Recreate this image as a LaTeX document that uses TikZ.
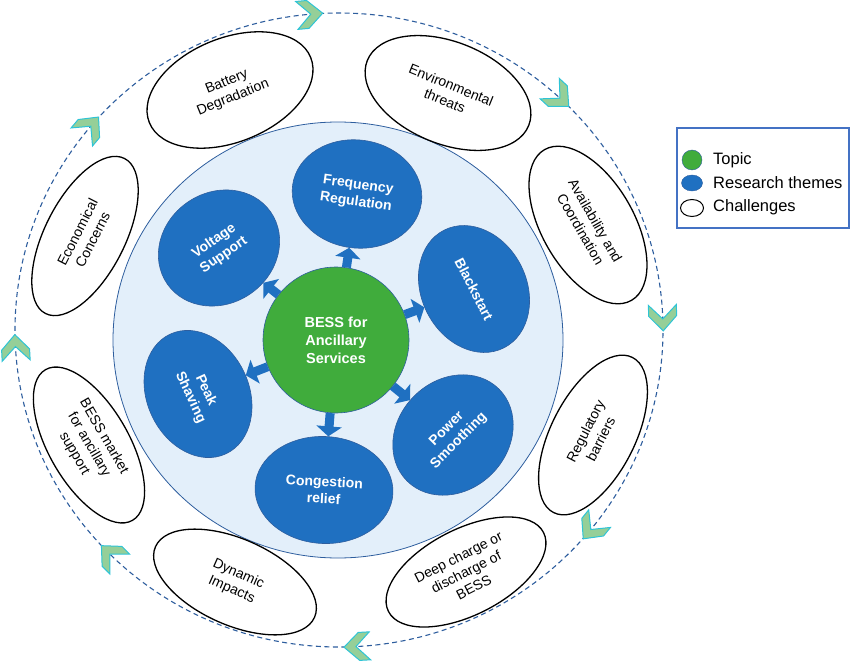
\documentclass[tikz,border=0pt]{standalone}
\usepackage{fontspec}
\setmainfont{Liberation Sans}
\usetikzlibrary{arrows.meta, shapes.geometric}

\definecolor{themeblue}{HTML}{1F70C1}
\definecolor{topicgreen}{HTML}{40AC3C}
\definecolor{paleblue}{HTML}{E3EFFA}
\definecolor{rimblue}{HTML}{2E5E9E}
\definecolor{chevfill}{HTML}{95CF98}
\definecolor{chevline}{HTML}{2EC4D6}
\definecolor{legendline}{HTML}{4472C4}

\begin{document}
\begin{tikzpicture}[x=1pt, y=1pt,
    challenge/.style={ellipse, draw=black, line width=1.3pt, fill=white, inner sep=0pt,
      align=center, font=\fontsize{14}{17}\selectfont, minimum width=174pt},
    theme/.style={ellipse, draw=rimblue, line width=0.6pt, fill=themeblue, text=white,
      inner sep=0pt, align=center, font=\fontsize{14}{17}\selectfont\bfseries},
    spoke/.style={draw=themeblue, line width=9pt, -{Triangle[width=25pt, length=10pt]}},
    chevron/.style={fill=chevfill, draw=chevline, line width=1pt, line join=miter},
    keytext/.style={anchor=west, inner sep=0pt, font=\fontsize{16.5}{19}\selectfont},
  ]
    \useasboundingbox (0,0) rectangle (851,-663);

    % outer cycle
    \draw[rimblue, line width=1.1pt, dash pattern=on 5pt off 3.5pt] (339,-330) ellipse [x radius=324, y radius=317];
    \foreach \a in {95,140,183,225,273,321,2,47}
        \draw[chevron, shift={(339,-330)}, shift={(\a:324 and 317)}, rotate=\a-90]
            (-14,14) -- (-3,14) -- (12,0) -- (-3,-14) -- (-14,-14) -- (0,0) -- cycle;

    % research area
    \draw[rimblue, line width=0.8pt, fill=paleblue] (338,-340) ellipse [x radius=225, y radius=218];

    % topic
    \node[circle, draw=rimblue, line width=0.6pt, fill=topicgreen, text=white, minimum size=146pt, inner sep=0pt,
          align=center, font=\fontsize{14.5}{18}\selectfont\bfseries] (bess) at (336,-340) {BESS for\\Ancillary\\Services};

    % research themes
    \node[theme, minimum width=130pt, minimum height=108pt, rotate=-8]  (freq)   at (357,-194) {Frequency\\Regulation};
    \node[theme, minimum width=126pt, minimum height=111pt, rotate=35]  (volt)   at (219,-248) {Voltage\\Support};
    \node[theme, minimum width=132pt, minimum height=105pt, rotate=-63] (black)  at (474,-289) {Blackstart};
    \node[theme, minimum width=130pt, minimum height=110pt, rotate=45]  (smooth) at (453,-435) {Power\\Smoothing};
    \node[theme, minimum width=138pt, minimum height=107pt, rotate=-3]  (cong)   at (324,-490) {Congestion\\relief};
    \node[theme, minimum width=132pt, minimum height=102pt, rotate=-65] (peak)   at (198,-394) {Peak\\Shaving};

    % spokes
    \foreach \t in {freq, volt, black, smooth, cong, peak}
        \draw[spoke] (bess) -- (\t);

    % challenges
    \node[challenge, minimum height=104pt, rotate=22]  (degr)   at (230,-90)  {Battery\\Degradation};
    \node[challenge, minimum height=102pt, rotate=-22] (env)    at (448,-93)  {Environmental\\threats};
    \node[challenge, minimum height=92pt,  rotate=-60] (avail)  at (588,-225) {Availability and\\Coordination};
    \node[challenge, minimum height=84pt,  rotate=63]  (reg)    at (593,-435) {Regulatory\\barriers};
    \node[challenge, minimum height=86pt,  rotate=27]  (deep)   at (466,-572) {Deep charge or\\discharge of\\BESS};
    \node[challenge, minimum height=86pt,  rotate=-24] (dyn)    at (235,-582) {Dynamic\\Impacts};
    \node[challenge, minimum height=80pt,  rotate=-60] (market) at (89,-445)  {BESS market\\for ancillary\\support};
    \node[challenge, minimum height=80pt,  rotate=63]  (econ)   at (85,-236)  {Economical\\Concerns};

    % legend
    \node[draw=legendline, line width=1.2pt, minimum width=172pt, minimum height=100pt, inner sep=0pt] (legend) at (763,-178) {};
    \node[circle, draw=rimblue, fill=topicgreen, minimum size=20pt, inner sep=0pt] (keytopic) at (692,-160) {};
    \node[ellipse, draw=rimblue, fill=themeblue, minimum width=21pt, minimum height=16pt, inner sep=0pt] (keytheme) at (692,-183) {};
    \node[ellipse, draw=black, line width=1pt, fill=white, minimum width=23pt, minimum height=17pt, inner sep=0pt] (keychal) at (692,-208) {};
    \node[keytext] (keytopiclabel) at (713,-160) {Topic};
    \node[keytext] (keythemelabel) at (713,-183) {Research themes};
    \node[keytext] (keychallabel)  at (713,-207) {Challenges};
\end{tikzpicture}
\end{document}
